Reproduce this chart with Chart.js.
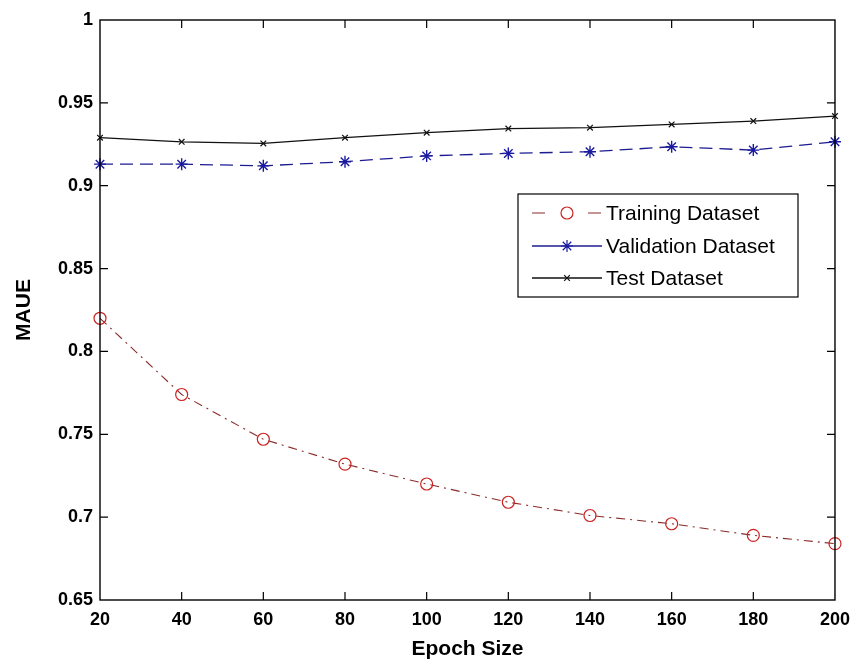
<!DOCTYPE html>
<html>
<head>
<meta charset="utf-8">
<script src="https://cdn.jsdelivr.net/npm/chart.js@4/dist/chart.umd.min.js"></script>
<style>
  html, body { margin: 0; padding: 0; background: #fff; }
  #wrap { width: 859px; height: 668px; }
</style>
</head>
<body>
<div id="wrap"><canvas id="c" width="859" height="668"></canvas></div>
<script>
const epochs = [20, 40, 60, 80, 100, 120, 140, 160, 180, 200];
const training = [0.820, 0.774, 0.747, 0.732, 0.720, 0.709, 0.701, 0.696, 0.689, 0.684];
const validation = [0.913, 0.913, 0.912, 0.9145, 0.918, 0.9195, 0.9205, 0.9235, 0.9215, 0.9265];
const test = [0.929, 0.9265, 0.9255, 0.929, 0.932, 0.9345, 0.935, 0.937, 0.939, 0.942];
const seriesNames = ['Training Dataset', 'Validation Dataset', 'Test Dataset'];
const yTicks = [0.65, 0.7, 0.75, 0.8, 0.85, 0.9, 0.95, 1];
const xTicks = epochs;

const pts = arr => epochs.map((e, i) => ({ x: e, y: arr[i] }));

const TICK_FONT = { family: '"Liberation Sans", Arial, sans-serif', size: 18, weight: 'bold' };
const TITLE_FONT = { family: '"Liberation Sans", Arial, sans-serif', size: 21, weight: 'bold' };

const framePlugin = {
  id: 'frame',
  beforeDraw(chart) {
    const { ctx } = chart;
    ctx.save();
    ctx.fillStyle = '#fff';
    ctx.fillRect(0, 0, chart.width, chart.height);
    ctx.restore();
  },
  afterDatasetsDraw(chart) {
    const { ctx, chartArea: a, scales } = chart;
    ctx.save();
    ctx.strokeStyle = '#000';
    ctx.lineWidth = 1.4;
    ctx.strokeRect(a.left, a.top, a.right - a.left, a.bottom - a.top);
    const tl = 8;
    ctx.lineWidth = 1.2;
    ctx.beginPath();
    scales.x.ticks.forEach(t => {
      const px = scales.x.getPixelForValue(t.value);
      if (Math.abs(px - a.left) < 1 || Math.abs(px - a.right) < 1) return;
      ctx.moveTo(px, a.bottom); ctx.lineTo(px, a.bottom - tl);
      ctx.moveTo(px, a.top); ctx.lineTo(px, a.top + tl);
    });
    scales.y.ticks.forEach(t => {
      const py = scales.y.getPixelForValue(t.value);
      if (Math.abs(py - a.top) < 1 || Math.abs(py - a.bottom) < 1) return;
      ctx.moveTo(a.left, py); ctx.lineTo(a.left + tl, py);
      ctx.moveTo(a.right, py); ctx.lineTo(a.right - tl, py);
    });
    ctx.stroke();
    ctx.restore();
  },
  afterDraw(chart) {
    // MATLAB-style legend box
    const { ctx } = chart;
    const bx = 518, by = 194, bw = 280, bh = 103;
    ctx.save();
    ctx.fillStyle = '#fff';
    ctx.fillRect(bx, by, bw, bh);
    ctx.strokeStyle = '#000';
    ctx.lineWidth = 1.2;
    ctx.strokeRect(bx, by, bw, bh);
    const rows = [213, 246, 278];
    chart.data.datasets.forEach((ds, i) => {
      const y = rows[i];
      ctx.save();
      ctx.strokeStyle = ds.borderColor;
      ctx.lineWidth = ds.borderWidth;
      ctx.beginPath();
      if (i === 0) {
        ctx.moveTo(532, y); ctx.lineTo(545, y);
        ctx.moveTo(588, y); ctx.lineTo(601, y);
      } else {
        ctx.moveTo(532, y); ctx.lineTo(602, y);
      }
      ctx.stroke();
      ctx.restore();
      ctx.save();
      ctx.strokeStyle = ds.pointBorderColor;
      ctx.fillStyle = ds.pointBackgroundColor;
      Chart.helpers.drawPoint(ctx, {
        pointStyle: ds.pointStyle, radius: ds.pointRadius, borderWidth: ds.pointBorderWidth, rotation: 0
      }, 567, y);
      ctx.restore();
      ctx.fillStyle = '#000';
      ctx.font = '21px "Liberation Sans", Arial, sans-serif';
      ctx.textBaseline = 'middle';
      ctx.textAlign = 'left';
      ctx.fillText(seriesNames[i], 606, y + 1);
    });
    ctx.restore();
  }
};

new Chart(document.getElementById('c'), {
  type: 'line',
  data: {
    datasets: [
      {
        label: seriesNames[0], data: pts(training),
        borderColor: '#8a2b2b', borderWidth: 1.1, borderDash: [9, 5, 2, 5],
        pointStyle: 'circle', pointRadius: 6, pointBorderWidth: 1.2,
        pointBorderColor: '#cc2222', pointBackgroundColor: 'rgba(255,255,255,0)',
        fill: false, tension: 0, clip: false
      },
      {
        label: seriesNames[1], data: pts(validation),
        borderColor: '#1c1c90', borderWidth: 1.3, borderDash: [13, 7],
        pointStyle: 'star', pointRadius: 6, pointBorderWidth: 1.4,
        pointBorderColor: '#1a1aa0', pointBackgroundColor: '#1a1aa0',
        fill: false, tension: 0, clip: false
      },
      {
        label: seriesNames[2], data: pts(test),
        borderColor: '#111', borderWidth: 1.3,
        pointStyle: 'crossRot', pointRadius: 4, pointBorderWidth: 1.2,
        pointBorderColor: '#111', pointBackgroundColor: '#111',
        fill: false, tension: 0, clip: false
      }
    ]
  },
  options: {
    responsive: false,
    animation: false,
    events: [],
    layout: { padding: { left: 0, right: 21, top: 20, bottom: 0 } },
    plugins: { legend: { display: false }, tooltip: { enabled: false } },
    scales: {
      x: {
        type: 'linear', min: 20, max: 200,
        afterFit: s => { s.height = 68; },
        afterBuildTicks: s => { s.ticks = xTicks.map(v => ({ value: v })); },
        grid: { display: false, drawTicks: false },
        border: { display: false },
        ticks: { color: '#000', font: TICK_FONT, padding: 9, maxRotation: 0, autoSkip: false,
                 callback: v => String(v) },
        title: { display: true, text: 'Epoch Size', color: '#000', font: TITLE_FONT,
                 padding: { top: 0, bottom: 6 } }
      },
      y: {
        type: 'linear', min: 0.65, max: 1,
        afterFit: s => { s.width = 100; },
        afterBuildTicks: s => { s.ticks = yTicks.map(v => ({ value: v })); },
        grid: { display: false, drawTicks: false },
        border: { display: false },
        ticks: { color: '#000', font: TICK_FONT, padding: 7, autoSkip: false,
                 callback: v => String(Number(v.toFixed(2))) },
        title: { display: true, text: 'MAUE', color: '#000', font: TITLE_FONT,
                 padding: { top: 12, bottom: 0 } }
      }
    }
  },
  plugins: [framePlugin]
});
</script>
</body>
</html>
